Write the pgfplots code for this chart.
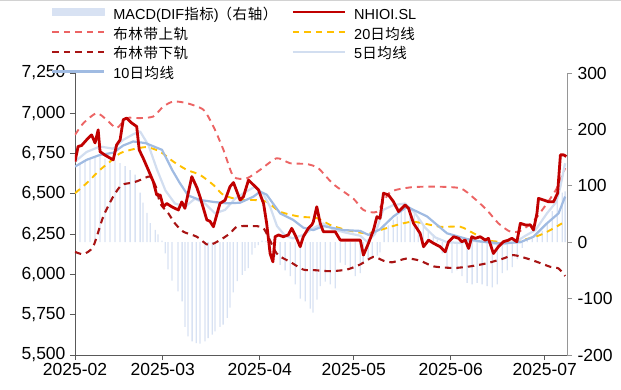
\documentclass[border=0pt]{standalone}
\usepackage{fontspec}
\setmainfont{Liberation Sans}
\newfontfamily\cjk[LetterSpace=4]{Noto Sans CJK SC}
\usepackage{pgfplots}
\pgfplotsset{compat=1.18}
\definecolor{nhred}{RGB}{192,0,0}
\definecolor{upred}{RGB}{236,100,100}
\definecolor{lored}{RGB}{168,20,20}
\definecolor{ma20}{RGB}{255,192,0}
\definecolor{ma5}{RGB}{210,222,240}
\definecolor{ma10}{RGB}{160,187,226}
\definecolor{macd}{RGB}{216,226,243}
\definecolor{axgray}{RGB}{89,89,89}
\definecolor{rgray}{RGB}{150,150,150}
\pgfplotsset{base/.style={scale only axis, width=492pt, height=282pt,
  xmin=0, xmax=157.1, at={(0,0)}, anchor=south west,
  tick align=outside, major tick length=5pt,
  tick label style={font=\fontsize{17.5}{20}\selectfont},
  /pgf/number format/assume math mode=true,
  /pgf/number format/1000 sep={,},
  scaled y ticks=false}}
\begin{document}
\begin{tikzpicture}
\useasboundingbox (-75pt,-35pt) rectangle (546pt,355pt);
\draw[gray!35, line width=1.2pt] (-75pt,354.4pt) -- (546pt,354.4pt);
% MACD bars, right axis
\begin{axis}[base, ymin=-200, ymax=300, axis x line=none, axis y line*=right,
  ytick={-200,-100,0,100,200,300},
  axis line style={rgray, line width=0.8pt}, ytick style={rgray, line width=0.8pt},
  yticklabel style={xshift=2pt}]
\addplot[ybar, bar width=1.3pt, fill=macd, draw=none] coordinates {
(0,130)(1.6,141)(3.2,145)(4.8,147)(6.4,150)(8.0,153)(9.6,148)(11.2,146)(12.8,145)(14.4,140)(16.0,135)(17.6,128)(19.2,120)(20.8,88)(21.7,70)(23.0,52)(24.0,34)(25.6,22)(26.5,14)(27.8,3)
(28.8,-20)(29.7,-48)(31.0,-68)(32.9,-87)(34.2,-105)(35.1,-150)(36.1,-167)(37.4,-176)(38.7,-179)(39.9,-180)(41.5,-176)(42.5,-170)(43.8,-164)(44.7,-158)(46.3,-150)(47.3,-146)(48.6,-134)(49.5,-116)(50.5,-89)(51.8,-69)(53.4,-58)(54.3,-51)(55.3,-46)(56.5,-22)(57.5,-10)(58.5,-5)(59.7,3)(61.0,2)(62.3,-10)(63.9,-25)(65.5,-40)(67.1,-50)(68.7,-60)(70.3,-75)(71.9,-100)(73.5,-105)(75.1,-118)(76.0,-125)(77.3,-102)(78.3,-78)(79.9,-70)(81.5,-75)(83.1,-82)(84.7,-36)(86.3,-40)(87.9,-48)(89.5,-60)(91.1,-55)(92.0,-36)(93.6,-30)(94.9,-28)(96.5,-24)(97.4,-18)
(98.7,28)(100.0,30)(101.6,40)(102.9,46)(104.2,60)(105.4,64)(107.0,58)(108.3,50)(109.6,45)(111.2,32)(112.8,18)(114.4,10)(115.7,5)
(117.3,-20)(118.8,-45)(120.4,-55)(122.0,-50)(123.6,-60)(125.2,-72)(126.8,-75)(128.4,-72)(130.0,-75)(131.6,-78)(133.2,-80)(134.8,-75)(136.4,-55)(138.0,-50)(139.6,-44)(141.2,-30)(142.8,-10)
(144.4,5)(146.0,8)(147.6,12)(149.2,20)(150.8,35)(152.4,55)(154.0,75)(155.6,88)(156.5,90)};
\end{axis}
% price axis
\begin{axis}[base, ymin=5500, ymax=7250, axis y line*=left, axis x line*=bottom,
  ytick={5500,5750,...,7250},
  xtick={0,28,59,89,120,150},
  xticklabels={2025-02,2025-03,2025-04,2025-05,2025-06,2025-07},
  axis line style={axgray, line width=0.8pt}, tick style={axgray, line width=0.8pt},
  yticklabel style={xshift=-1pt},
  legend columns=2,
  legend style={at={(-0.0488,1.230)}, anchor=north west, draw=none, fill=none,
    font=\fontsize{14.5}{17}\selectfont, inner sep=0pt, row sep=6.3pt,
    nodes={inner sep=0pt, text height=10pt, text depth=3.5pt},
    /tikz/every odd column/.append style={column sep=8pt},
    /tikz/every even column/.append style={column sep=14pt}},
  legend cell align=left,
  line join=round]
\addlegendimage{legend image code/.code={\fill[macd] (0pt,0.5pt) rectangle (52pt,7.5pt);}}
\addlegendentry{MACD(DIF{\cjk 指标})\kern-1pt{\cjk （右轴）}}
\addlegendimage{legend image code/.code={\draw[nhred, line width=2.8pt] (0pt,4pt) -- (52pt,4pt);}}
\addlegendentry{NHIOI.SL}
\addlegendimage{legend image code/.code={\draw[upred, line width=2pt, dash pattern=on 6.5pt off 5pt] (0pt,4pt) -- (52pt,4pt);}}
\addlegendentry{\cjk 布林带上轨}
\addlegendimage{legend image code/.code={\draw[ma20, line width=2pt, dash pattern=on 6.5pt off 5pt] (0pt,4pt) -- (52pt,4pt);}}
\addlegendentry{20{\cjk 日均线}}
\addlegendimage{legend image code/.code={\draw[lored, line width=2.2pt, dash pattern=on 6.5pt off 5pt] (0pt,4pt) -- (52pt,4pt);}}
\addlegendentry{\cjk 布林带下轨}
\addlegendimage{legend image code/.code={\draw[ma5, line width=2.2pt] (0pt,4pt) -- (52pt,4pt);}}
\addlegendentry{5{\cjk 日均线}}
\addlegendimage{legend image code/.code={\draw[ma10, line width=2.2pt] (0pt,4pt) -- (52pt,4pt);}}
\addlegendentry{10{\cjk 日均线}}
% Bollinger upper
\addplot[forget plot, upred, line width=1.9pt, dash pattern=on 6.5pt off 5pt, smooth, tension=0.4] coordinates {
(0,6866)(2.7,6939)(6.9,7001)(10.1,6960)(13.3,6908)(16.5,6970)(20.8,6970)(25.0,6980)(28.2,7042)(31.4,7073)(35.7,7063)(41.0,7022)(44.2,6918)(47.4,6773)(50.6,6607)(54.9,6597)(59.1,6649)(64.4,6721)(68.7,6690)(74.0,6685)(77.7,6659)(82.5,6560)(88.9,6470)(92.1,6400)(96.4,6389)(100.6,6510)(107.0,6540)(114.5,6545)(123.0,6535)(127.3,6475)(131.5,6400)(135.2,6317)(139.0,6265)(142.2,6270)(146.4,6330)(150.7,6441)(153.7,6530)(156.5,6660)};
% Bollinger lower
\addplot[forget plot, lored, line width=2.1pt, dash pattern=on 6.5pt off 5pt, smooth, tension=0.4] coordinates {
(0,6140)(2.7,6126)(5.8,6172)(9.0,6358)(12.2,6483)(14.9,6555)(18.6,6570)(20.8,6586)(24.0,6607)(25.9,6540)(27.2,6441)(29.8,6379)(31.9,6317)(34.6,6265)(38.9,6234)(42.6,6182)(46.3,6213)(49.5,6255)(51.7,6296)(55.9,6300)(60.2,6286)(64.4,6130)(68.7,6078)(72.9,6030)(76.1,6027)(81.5,6020)(86.8,6030)(91.1,6062)(95.3,6109)(98.5,6085)(101.2,6075)(106.0,6099)(110.2,6085)(114.5,6050)(120.9,6040)(126.2,6050)(131.5,6069)(136.8,6099)(140.0,6120)(144.3,6099)(147.5,6078)(151.8,6047)(154.4,6037)(156.5,5990)};
% MA20
\addplot[forget plot, ma20, line width=1.9pt, dash pattern=on 6.5pt off 5pt, smooth, tension=0.4] coordinates {
(0,6504)(3.7,6566)(8.0,6649)(11.2,6700)(14.4,6752)(18.6,6777)(22.9,6790)(27.2,6762)(31.4,6700)(35.7,6649)(39.9,6618)(44.2,6555)(47.4,6493)(52.7,6462)(57.0,6462)(61.2,6451)(65.5,6389)(71.9,6358)(77.2,6350)(81.5,6307)(86.8,6275)(93.2,6255)(97.4,6275)(102.8,6307)(108.1,6327)(116.6,6296)(123.0,6296)(127.3,6255)(131.5,6213)(135.8,6203)(142.2,6210)(148.6,6245)(152.8,6286)(155.5,6317)};
% MA5
\addplot[forget plot, ma5, line width=2.2pt] coordinates {
(0,6700)(3.7,6760)(8.0,6794)(12.2,6780)(15.4,6835)(18.6,6870)(20.8,6887)(23.5,6800)(26.2,6650)(28.9,6520)(31.9,6440)(35.1,6420)(38.3,6470)(41.5,6440)(44.7,6379)(47.9,6400)(51.1,6470)(54.3,6510)(57.5,6545)(60.1,6500)(62.3,6420)(64.5,6300)(67.1,6240)(69.6,6224)(72.8,6245)(76.0,6286)(79.2,6317)(82.4,6280)(86.3,6260)(91.1,6240)(93.2,6203)(95.8,6250)(98.4,6400)(101.6,6430)(105.4,6440)(108.6,6380)(111.8,6290)(115.0,6230)(118.8,6200)(123.0,6195)(126.2,6210)(131.0,6200)(135.8,6185)(140.6,6200)(143.8,6240)(147.0,6275)(150.7,6379)(153.7,6450)(155.0,6545)(156.5,6690)};
% MA10
\addplot[forget plot, ma10, line width=2.2pt] coordinates {
(0,6669)(3.7,6711)(8.0,6742)(12.2,6755)(15.4,6800)(18.6,6825)(22.5,6815)(27.8,6773)(31.0,6649)(33.5,6566)(36.1,6490)(39.9,6462)(44.2,6450)(48.5,6441)(52.7,6445)(57.0,6483)(59.1,6514)(61.2,6495)(65.5,6379)(69.7,6338)(72.9,6290)(76.1,6275)(79.3,6300)(85.7,6275)(91.1,6270)(93.7,6245)(97.4,6280)(101.7,6360)(106.0,6420)(112.4,6360)(118.8,6255)(125.1,6220)(129.4,6205)(135.8,6193)(142.2,6200)(146.4,6234)(150.7,6317)(154.4,6379)(156.5,6483)};
% NHIOI.SL
\addplot[forget plot, nhred, line width=2.8pt] coordinates {
(0,6700)(1.0,6794)(2.1,6800)(3.7,6835)(5.3,6866)(6.4,6816)(7.4,6897)(8.0,6762)(9.6,6740)(12.2,6711)(13.3,6804)(14.4,6835)(15.4,6960)(16.5,6970)(18.1,6940)(19.7,6918)(20.5,6773)(21.8,6720)(23.4,6649)(25.0,6576)(26.1,6493)(27.2,6493)(28.2,6420)(29.3,6440)(30.9,6420)(33.0,6400)(34.1,6450)(35.1,6410)(37.3,6607)(38.9,6540)(39.9,6483)(42.1,6338)(43.1,6330)(44.2,6296)(46.3,6441)(47.9,6460)(49.5,6545)(50.6,6570)(51.7,6514)(52.7,6462)(53.8,6483)(55.4,6586)(57.0,6555)(58.6,6524)(60.2,6441)(61.2,6317)(62.3,6130)(63.2,6078)(63.9,6234)(65.0,6245)(66.5,6234)(68.1,6245)(69.2,6286)(70.3,6245)(71.9,6172)(72.9,6234)(74.5,6286)(75.6,6307)(76.1,6327)(77.2,6420)(78.3,6317)(79.3,6265)(81.5,6265)(83.1,6265)(84.7,6213)(86.8,6213)(88.9,6213)(91.1,6213)(92.1,6120)(93.7,6193)(95.3,6275)(96.4,6358)(97.4,6348)(98.5,6504)(100.1,6493)(101.7,6451)(103.3,6390)(105.4,6431)(106.5,6410)(108.1,6317)(110.2,6255)(111.3,6172)(112.9,6213)(114.5,6193)(116.6,6172)(118.2,6140)(119.3,6203)(120.9,6234)(122.5,6224)(123.5,6203)(124.6,6213)(125.7,6161)(126.7,6234)(127.8,6224)(129.4,6234)(131.0,6213)(132.0,6224)(133.6,6130)(135.2,6172)(136.8,6203)(138.4,6213)(139.5,6224)(141.1,6203)(142.2,6317)(143.8,6307)(145.4,6307)(146.4,6276)(147.5,6379)(148.0,6472)(149.6,6462)(151.2,6451)(152.8,6451)(154.1,6504)(155.0,6742)(156.0,6742)(156.9,6732)};
\end{axis}
\end{tikzpicture}
\end{document}
